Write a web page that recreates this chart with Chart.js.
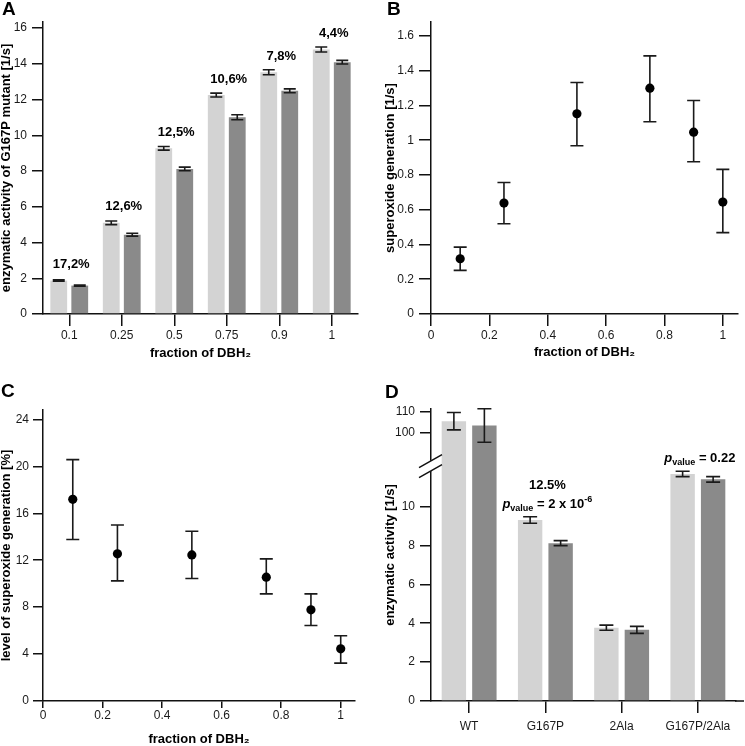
<!DOCTYPE html>
<html>
<head>
<meta charset="utf-8">
<script src="https://cdn.jsdelivr.net/npm/chart.js@4.4.1/dist/chart.umd.min.js"></script>
<style>
  body { margin: 0; background: #fff; }
  #fig { position: relative; width: 745px; height: 746px; font-family: 'Liberation Sans', Arial, Helvetica, sans-serif; }
  .panel { position: absolute; }
  .panel canvas { display: block; }
  .letter { position: absolute; font-weight: bold; font-size: 19px; line-height: 1; color: #000; }
</style>
</head>
<body>
<div id="fig">
  <div class="panel" style="left:0;top:0"><canvas id="chartA" width="372" height="370"></canvas></div>
  <div class="panel" style="left:372px;top:0"><canvas id="chartB" width="373" height="370"></canvas></div>
  <div class="panel" style="left:0;top:370px"><canvas id="chartC" width="372" height="376"></canvas></div>
  <div class="panel" style="left:372px;top:370px"><canvas id="chartD" width="373" height="376"></canvas></div>
  <div class="letter" style="left:2px;top:-1px">A</div>
  <div class="letter" style="left:387px;top:-1px">B</div>
  <div class="letter" style="left:1px;top:381px">C</div>
  <div class="letter" style="left:385px;top:382px">D</div>
</div>
<script>
// Panel A - activity of G167P mutant vs fraction of DBH2
const fractionsA = ['0.1', '0.25', '0.5', '0.75', '0.9', '1'];
const actLight = [1.87, 5.1, 9.27, 12.25, 13.53, 14.8];
const actLightErr = [0.04, 0.1, 0.1, 0.11, 0.14, 0.14];
const actDark = [1.59, 4.44, 8.12, 11.01, 12.49, 14.09];
const actDarkErr = [0.03, 0.08, 0.1, 0.14, 0.11, 0.1];
const pctLabelsA = ['17,2%', '12,6%', '12,5%', '10,6%', '7,8%', '4,4%'];
const yTicksA = [0, 2, 4, 6, 8, 10, 12, 14, 16];

// Panel B - superoxide generation
const fracB = [0.1, 0.25, 0.5, 0.75, 0.9, 1];
const superox = [0.318, 0.638, 1.152, 1.299, 1.046, 0.644];
const superoxLow = [0.251, 0.519, 0.968, 1.106, 0.876, 0.468];
const superoxHigh = [0.385, 0.757, 1.332, 1.485, 1.228, 0.832];
const yTicksB = [0, 0.2, 0.4, 0.6, 0.8, 1, 1.2, 1.4, 1.6];
const xTicksFrac = [0, 0.2, 0.4, 0.6, 0.8, 1];

// Panel C - level of superoxide generation [%]
const fracC = [0.1, 0.25, 0.5, 0.75, 0.9, 1];
const levelC = [17.19, 12.54, 12.45, 10.55, 7.77, 4.45];
const levelCLow = [13.76, 10.24, 10.44, 9.13, 6.44, 3.23];
const levelCHigh = [20.57, 15.0, 14.47, 12.11, 9.13, 5.56];
const yTicksC = [0, 4, 8, 12, 16, 20, 24];

// Panel D - enzymatic activity of the mutants
const mutants = ['WT', 'G167P', '2Ala', 'G167P/2Ala'];
const dLight = [105.5, 9.31, 3.77, 11.68];
const dLightErr = [4.0, 0.17, 0.13, 0.14];
const dDark = [103.5, 8.12, 3.66, 11.4];
const dDarkErr = [7.7, 0.13, 0.18, 0.14];
const dPct = ['', '12.5%', '', ''];
const dPval = ['', '2 x 10', '', '0.22'];
const dPvalExp = ['', '-6', '', ''];
const yTicksD = [0, 2, 4, 6, 8, 10, 100, 110];

const FAM = "'Liberation Sans', Arial, Helvetica, sans-serif";
const LIGHT = '#d3d3d3';
const DARK = '#8a8a8a';
const INK = '#111';

Chart.defaults.font.family = FAM;
Chart.defaults.color = '#1a1a1a';
Chart.defaults.animation = false;
Chart.defaults.plugins.legend.display = false;
Chart.defaults.plugins.tooltip.enabled = false;

const tickFont = { size: 12 };
const titleFont = { size: 13, weight: 'bold', lineHeight: 1 };

// broken y axis for panel D: 0..12 linear, then jump to 95..max
const brkLow = 12, brkHigh = 95;
const brkLowFrac = 0.799, brkHighFrac = 0.88;

class BrokenScale extends Chart.LinearScale {
  getPixelForValue(v) {
    if (v === null || v === undefined) return NaN;
    let d;
    if (v <= brkLow) d = (v - this.min) / (brkLow - this.min) * brkLowFrac;
    else if (v >= brkHigh) d = brkHighFrac + (v - brkHigh) / (this.max - brkHigh) * (1 - brkHighFrac);
    else d = brkLowFrac + (v - brkLow) / (brkHigh - brkLow) * (brkHighFrac - brkLowFrac);
    return this.getPixelForDecimal(d);
  }
  getValueForPixel(p) {
    const d = this.getDecimalForPixel(p);
    if (d <= brkLowFrac) return this.min + d / brkLowFrac * (brkLow - this.min);
    if (d >= brkHighFrac) return brkHigh + (d - brkHighFrac) / (1 - brkHighFrac) * (this.max - brkHigh);
    return brkLow + (d - brkLowFrac) / (brkHighFrac - brkLowFrac) * (brkHigh - brkLow);
  }
}
BrokenScale.id = 'broken';
BrokenScale.defaults = Chart.LinearScale.defaults;
Chart.register(BrokenScale);

function yAxis(o) {
  return {
    type: o.type || 'linear',
    min: o.min, max: o.max,
    afterBuildTicks: s => { s.ticks = o.ticks.map(v => ({ value: v })); },
    afterFit: s => { s.width = o.width; },
    ticks: { font: tickFont, padding: o.pad, color: '#1a1a1a', callback: v => String(v) },
    grid: { drawOnChartArea: false, tickLength: o.tickLen, color: INK, lineWidth: 1.5 },
    border: { color: INK, width: 1.5 },
    title: { display: !!o.title, text: o.title, font: titleFont, color: '#000', padding: { top: o.titlePad, bottom: 0 } }
  };
}

function xAxis(o) {
  const ax = {
    type: o.type,
    afterFit: s => { s.height = o.height; },
    ticks: { font: tickFont, padding: o.pad, color: '#1a1a1a', maxRotation: 0, autoSkip: false },
    grid: { drawOnChartArea: false, offset: false, tickLength: o.tickLen, color: INK, lineWidth: 1.5 },
    border: { color: INK, width: 1.5 },
    title: { display: !!o.title, text: o.title, font: titleFont, color: '#000', padding: { top: 0, bottom: o.titlePad } }
  };
  if (o.type === 'linear') {
    ax.min = o.min; ax.max = o.max;
    ax.afterBuildTicks = s => { s.ticks = o.ticks.map(v => ({ value: v })); };
    ax.ticks.callback = v => String(v);
  }
  return ax;
}

function drawErr(ctx, x, yLo, yHi, cap) {
  ctx.beginPath();
  ctx.moveTo(x, yLo); ctx.lineTo(x, yHi);
  ctx.moveTo(x - cap, yLo); ctx.lineTo(x + cap, yLo);
  ctx.moveTo(x - cap, yHi); ctx.lineTo(x + cap, yHi);
  ctx.stroke();
}

// error bars: sets = [{ds, low: [], high: []}]
function errorBars(sets, cap, front) {
  const draw = chart => {
    const ctx = chart.ctx;
    ctx.save();
    ctx.strokeStyle = '#1a1a1a';
    ctx.lineWidth = 1.6;
    sets.forEach(s => {
      const meta = chart.getDatasetMeta(s.ds);
      const ys = chart.scales[meta.yAxisID];
      meta.data.forEach((el, i) => {
        drawErr(ctx, el.x, ys.getPixelForValue(s.low[i]), ys.getPixelForValue(s.high[i]), cap);
      });
    });
    ctx.restore();
  };
  return front ? { id: 'errFront', afterDatasetsDraw: draw } : { id: 'errBack', beforeDatasetsDraw: draw };
}

const minus = (v, e) => v.map((x, i) => x - e[i]);
const plus = (v, e) => v.map((x, i) => x + e[i]);

// ---------- Panel A ----------
const pctLabelPlugin = {
  id: 'pctLabels',
  afterDatasetsDraw(chart) {
    const ctx = chart.ctx;
    const m0 = chart.getDatasetMeta(0), m1 = chart.getDatasetMeta(1);
    ctx.save();
    ctx.font = `bold 13px ${FAM}`;
    ctx.fillStyle = '#000';
    ctx.textAlign = 'center';
    ctx.textBaseline = 'middle';
    pctLabelsA.forEach((t, i) => {
      const cx = (m0.data[i].x + m1.data[i].x) / 2 + 2;
      ctx.fillText(t, cx, m0.data[i].y - 16);
    });
    ctx.restore();
  }
};

new Chart(document.getElementById('chartA'), {
  type: 'bar',
  data: {
    labels: fractionsA,
    datasets: [
      { data: actLight, backgroundColor: LIGHT, categoryPercentage: 0.8, barPercentage: 0.8 },
      { data: actDark, backgroundColor: DARK, categoryPercentage: 0.8, barPercentage: 0.8 }
    ]
  },
  options: {
    responsive: false,
    devicePixelRatio: 1,
    layout: { padding: { top: 22, right: 14, bottom: 0, left: 0 } },
    scales: {
      x: xAxis({ type: 'category', height: 56, tickLen: 12, pad: 2, title: 'fraction of DBH\u2082', titlePad: 10.5 }),
      y: yAxis({ min: 0, max: 16.34, ticks: yTicksA, width: 43, tickLen: 11, pad: 5, title: 'enzymatic activity of G167P mutant [1/s]', titlePad: 0 })
    }
  },
  plugins: [
    errorBars([
      { ds: 0, low: minus(actLight, actLightErr), high: plus(actLight, actLightErr) },
      { ds: 1, low: minus(actDark, actDarkErr), high: plus(actDark, actDarkErr) }
    ], 6, true),
    pctLabelPlugin
  ]
});

// ---------- Panel B ----------
new Chart(document.getElementById('chartB'), {
  type: 'scatter',
  data: {
    datasets: [{
      data: fracB.map((x, i) => ({ x, y: superox[i] })),
      backgroundColor: '#000', borderWidth: 0, pointRadius: 4.6
    }]
  },
  options: {
    responsive: false,
    devicePixelRatio: 1,
    layout: { padding: { top: 22, right: 7, bottom: 0, left: 0 } },
    scales: {
      x: xAxis({ type: 'linear', min: 0, max: 1.052, ticks: xTicksFrac, height: 56, tickLen: 12, pad: 2, title: 'fraction of DBH\u2082', titlePad: 11.5 }),
      y: yAxis({ min: 0, max: 1.68, ticks: yTicksB, width: 59, tickLen: 12, pad: 5, title: 'superoxide generation [1/s]', titlePad: 11.5 })
    }
  },
  plugins: [errorBars([{ ds: 0, low: superoxLow, high: superoxHigh }], 6.5, false)]
});

// ---------- Panel C ----------
new Chart(document.getElementById('chartC'), {
  type: 'scatter',
  data: {
    datasets: [{
      data: fracC.map((x, i) => ({ x, y: levelC[i] })),
      backgroundColor: '#000', borderWidth: 0, pointRadius: 4.6
    }]
  },
  options: {
    responsive: false,
    devicePixelRatio: 1,
    layout: { padding: { top: 40, right: 17, bottom: 0, left: 0 } },
    scales: {
      x: xAxis({ type: 'linear', min: 0, max: 1.048, ticks: xTicksFrac, height: 45, tickLen: 7, pad: 0, title: 'fraction of DBH\u2082', titlePad: 0.5 }),
      y: yAxis({ min: 0, max: 24.8, ticks: yTicksC, width: 43, tickLen: 10, pad: 4, title: 'level of superoxide generation [%]', titlePad: 0 })
    }
  },
  plugins: [errorBars([{ ds: 0, low: levelCLow, high: levelCHigh }], 6.5, false)]
});

// ---------- Panel D ----------
function drawPval(ctx, base, exp, cx, cy) {
  const big = `bold 13px ${FAM}`, small = `bold 9px ${FAM}`, ital = `italic bold 13px ${FAM}`;
  const parts = [
    { t: 'p', f: ital, dy: 0 },
    { t: 'value', f: small, dy: 3 },
    { t: ' = ' + base, f: big, dy: 0 }
  ];
  if (exp) parts.push({ t: exp, f: small, dy: -6 });
  let w = 0;
  parts.forEach(p => { ctx.font = p.f; p.w = ctx.measureText(p.t).width; w += p.w; });
  let x = cx - w / 2;
  const baseY = cy + 4.6;
  ctx.textAlign = 'left';
  ctx.textBaseline = 'alphabetic';
  parts.forEach(p => { ctx.font = p.f; ctx.fillText(p.t, x, baseY + p.dy); x += p.w; });
}

const dAnnotPlugin = {
  id: 'dAnnot',
  afterDatasetsDraw(chart) {
    const ctx = chart.ctx;
    const m0 = chart.getDatasetMeta(0), m1 = chart.getDatasetMeta(1);
    ctx.save();
    ctx.fillStyle = '#000';
    mutants.forEach((_, i) => {
      const cx = (m0.data[i].x + m1.data[i].x) / 2 + 2;
      const top = m0.data[i].y;
      if (dPct[i]) {
        ctx.font = `bold 13px ${FAM}`;
        ctx.textAlign = 'center';
        ctx.textBaseline = 'middle';
        ctx.fillText(dPct[i], cx, top - 35);
      }
      if (dPval[i]) drawPval(ctx, dPval[i], dPvalExp[i], cx, top - 17);
    });
    ctx.restore();
  },
  afterDraw(chart) {
    // axis break marks and a short extension of the x axis
    const ctx = chart.ctx;
    const ys = chart.scales.y;
    const x0 = chart.chartArea.left;
    const yc = ys.getPixelForValue(brkLow) - 2;
    ctx.save();
    ctx.fillStyle = '#fff';
    ctx.beginPath();
    ctx.moveTo(x0 - 4, yc - 3); ctx.lineTo(x0 + 4, yc - 7.5);
    ctx.lineTo(x0 + 4, yc + 3); ctx.lineTo(x0 - 4, yc + 7.5);
    ctx.closePath();
    ctx.fill();
    ctx.strokeStyle = INK;
    ctx.lineWidth = 1.5;
    ctx.beginPath();
    ctx.moveTo(x0 - 12, yc + 2); ctx.lineTo(x0 + 11, yc - 11);
    ctx.moveTo(x0 - 12, yc + 12); ctx.lineTo(x0 + 11, yc - 1);
    const by = chart.chartArea.bottom;
    ctx.moveTo(chart.chartArea.right - 1, by); ctx.lineTo(chart.chartArea.right + 8, by);
    ctx.stroke();
    ctx.restore();
  }
};

new Chart(document.getElementById('chartD'), {
  type: 'bar',
  data: {
    labels: mutants,
    datasets: [
      { data: dLight, backgroundColor: LIGHT, categoryPercentage: 0.8, barPercentage: 0.8 },
      { data: dDark, backgroundColor: DARK, categoryPercentage: 0.8, barPercentage: 0.8 }
    ]
  },
  options: {
    responsive: false,
    devicePixelRatio: 1,
    layout: { padding: { top: 39, right: 9, bottom: 0, left: 0 } },
    scales: {
      x: xAxis({ type: 'category', height: 45, tickLen: 12, pad: 6 }),
      y: yAxis({ type: 'broken', min: 0, max: 111.1, ticks: yTicksD, width: 59, tickLen: 11, pad: 5, title: 'enzymatic activity [1/s]', titlePad: 11.5 })
    }
  },
  plugins: [
    errorBars([
      { ds: 0, low: minus(dLight, dLightErr), high: plus(dLight, dLightErr) },
      { ds: 1, low: minus(dDark, dDarkErr), high: plus(dDark, dDarkErr) }
    ], 7, true),
    dAnnotPlugin
  ]
});
</script>
</body>
</html>
